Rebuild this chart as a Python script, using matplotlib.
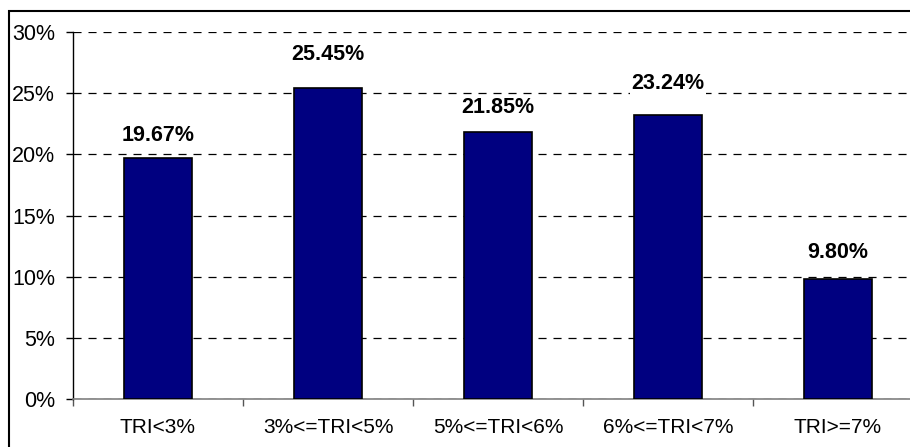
import matplotlib.pyplot as plt
from matplotlib.patches import Rectangle
from matplotlib.ticker import FixedLocator, FuncFormatter

plt.rcParams['font.family'] = ['Liberation Sans', 'DejaVu Sans']
plt.rcParams['lines.scale_dashes'] = False

categories = ['TRI<3%', '3%<=TRI<5%', '5%<=TRI<6%', '6%<=TRI<7%', 'TRI>=7%']
shares = [19.67, 25.45, 21.85, 23.24, 9.80]
# vertical gap (px) between bar top and its value label, as in the original
label_gap_px = [23, 33, 24, 31, 27]

W, H = 910, 447
fig = plt.figure(figsize=(W / 100, H / 100), dpi=100)

# outer chart border (cropped at right/bottom like the original)
fig.patches.append(Rectangle((9 / W, -0.1), 1.2, 1 - 11 / H + 0.1, transform=fig.transFigure,
                             fill=False, edgecolor='black', linewidth=1.5))

ax = fig.add_axes([73 / W, 48 / H, 850 / W, 367 / H])
x = range(len(categories))
ax.bar(x, shares, width=0.4, color='#000080', edgecolor='black', linewidth=1.2, zorder=3)

for xi, v, g in zip(x, shares, label_gap_px):
    ax.annotate(f'{v:.2f}%', (xi, v), xytext=(0, g * 0.72), textcoords='offset points',
                ha='center', va='center', fontsize=15.5, fontweight='bold',
                bbox=dict(facecolor='white', edgecolor='none', pad=1), zorder=4)

ax.set_xlim(-0.5, len(categories) - 0.5)
ax.set_ylim(0, 30)
ax.set_yticks(range(0, 31, 5))
ax.yaxis.set_major_formatter(FuncFormatter(lambda v, p: f'{v:.0f}%'))
ax.grid(axis='y', color='black', linestyle=(0, (5.8, 5)), linewidth=0.9, zorder=0)

ax.set_xticks(list(x))
ax.set_xticklabels(categories)
ax.xaxis.set_minor_locator(FixedLocator([i - 0.5 for i in range(len(categories) + 1)]))
ax.tick_params(axis='x', which='major', length=0, pad=14, labelsize=15)
ax.tick_params(axis='x', which='minor', length=5, width=1, color='#555555')
ax.tick_params(axis='y', length=5, width=1, pad=8, labelsize=15.5)

for s in ['top', 'right']:
    ax.spines[s].set_visible(False)
ax.spines['left'].set_linewidth(1)
ax.spines['bottom'].set_color('#808080')
ax.spines['bottom'].set_linewidth(1.2)

fig.savefig('out.png', dpi=100)
